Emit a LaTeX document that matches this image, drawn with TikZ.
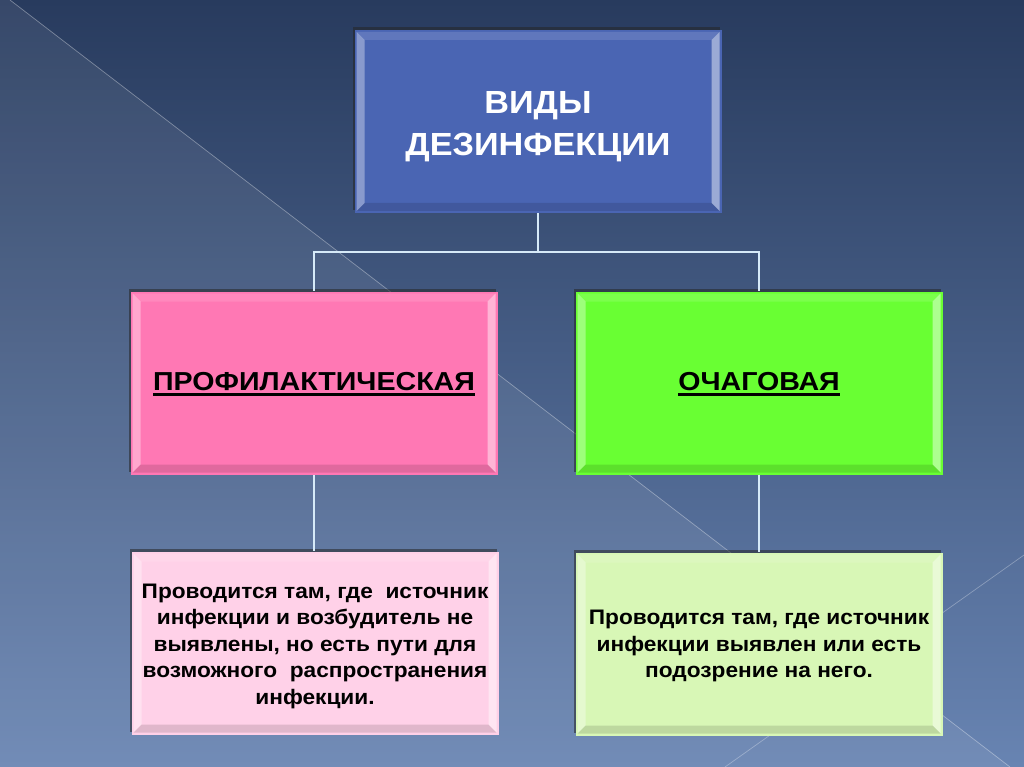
\documentclass[tikz,border=0pt]{standalone}
\usepackage{fontspec}
\setmainfont{Liberation Sans}
\newfontfamily\bodyfont[FakeStretch=1.08]{Liberation Sans}
\newfontfamily\headfont[FakeStretch=1.1]{Liberation Sans}
\newfontfamily\titlefont[FakeStretch=1.07]{Liberation Sans}
\usetikzlibrary{shadows,calc}
\definecolor{bgtop}{HTML}{283B5E}
\definecolor{bgbot}{HTML}{6884B2}
\definecolor{topblue}{HTML}{4A65B3}
\definecolor{pinkA}{HTML}{FF78B4}
\definecolor{greenA}{HTML}{69FF33}
\definecolor{pinkB}{HTML}{FFD1E8}
\definecolor{greenB}{HTML}{D8F7B6}
\definecolor{connc}{HTML}{D6EAF8}
\newcommand\myul[1]{\setbox0=\hbox{#1}\leavevmode\rlap{\copy0}\raisebox{-5pt}{\rule{\wd0}{2.5pt}}}
\tikzset{
  box/.style={rectangle, inner sep=0pt, minimum width=367pt, minimum height=183pt,
    draw=none, align=center, font=\bfseries,
    drop shadow={shadow xshift=-1.5pt, shadow yshift=3pt, opacity=.55, fill=black!85},
    path picture={
      \fill[white,opacity=.35] ($(path picture bounding box.north west)+(2,2)$) -- ($(path picture bounding box.north west)+(10,10)$) -- ($(path picture bounding box.south west)+(10,-10)$) -- ($(path picture bounding box.south west)+(2,-2)$) -- cycle;
      \fill[white,opacity=.45] ($(path picture bounding box.north east)+(-2,2)$) -- ($(path picture bounding box.north east)+(-10,10)$) -- ($(path picture bounding box.south east)+(-10,-10)$) -- ($(path picture bounding box.south east)+(-2,-2)$) -- cycle;
      \fill[white,opacity=.12] ($(path picture bounding box.north west)+(2,2)$) -- ($(path picture bounding box.north east)+(-2,2)$) -- ($(path picture bounding box.north east)+(-10,10)$) -- ($(path picture bounding box.north west)+(10,10)$) -- cycle;
      \fill[black,opacity=.12] ($(path picture bounding box.south west)+(2,-2)$) -- ($(path picture bounding box.south east)+(-2,-2)$) -- ($(path picture bounding box.south east)+(-10,-10)$) -- ($(path picture bounding box.south west)+(10,-10)$) -- cycle;
    }},
  conn/.style={draw=connc, line width=2.4pt},
  bodytext/.style={font=\bodyfont\fontsize{21}{26.5}\selectfont\bfseries, align=center, text=black},
  headtext/.style={font=\headfont\fontsize{26}{30}\selectfont\bfseries, text=black},
}
\begin{document}
\begin{tikzpicture}[x=1pt,y=-1pt]
\useasboundingbox (0,0) rectangle (1024,767);
% background
\shade[top color=bgtop, bottom color=bgbot] (0,0) rectangle (1024,767);
\fill[white,opacity=.07] (0,0) -- (10,0) -- (1010,767) -- (0,767) -- cycle;
\draw[white,opacity=.35,line width=.7pt] (10,0) -- (1010,767);
\draw[white,opacity=.3,line width=.7pt] (725,767) -- (1024,555);

% nodes
\node[box, fill=topblue] (top) at (538,121.5) {};
\node[font=\titlefont\fontsize{32}{42}\selectfont\bfseries, align=center, text=white] (toptx) at (538,126.5) {ВИДЫ\\ДЕЗИНФЕКЦИИ};

\node[box, fill=pinkA] (pink) at (314,383) {};
\node[box, fill=greenA] (green) at (759,383) {};
\node[box, fill=pinkB] (lpink) at (315,643) {};
\node[box, fill=greenB] (lgreen) at (759,644) {};

% connectors
\coordinate (j) at (538,252);
\draw[conn] (top.south) -- (j);
\draw[conn] (j) -| (pink.north);
\draw[conn] (j) -| (green.north);
\draw[conn] (pink.south) -- (pink.south |- lpink.north);
\draw[conn] (green.south) -- (lgreen.north);

\node[headtext] (ptx) at (314,384) {\myul{ПРОФИЛАКТИЧЕСКАЯ}};
\node[headtext] (gtx) at (759,384) {\myul{ОЧАГОВАЯ}};

\node[bodytext] (lptx) at (315,646) {Проводится там, где\ \ источник\\инфекции и возбудитель не\\выявлены, но есть пути для\\возможного\ \ распространения\\инфекции.};
\node[bodytext] (lgtx) at (759,646) {Проводится там, где источник\\инфекции выявлен или есть\\подозрение на него.};
\end{tikzpicture}
\end{document}
